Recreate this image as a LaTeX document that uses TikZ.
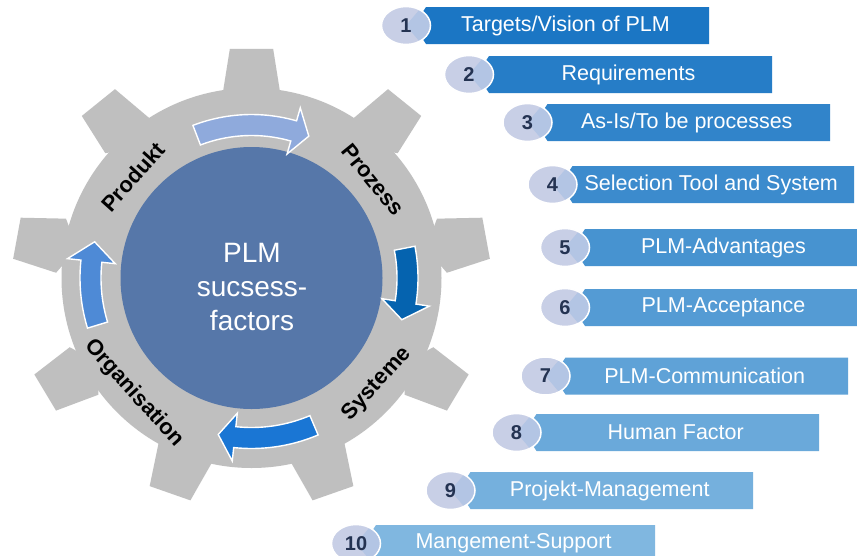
\documentclass[tikz,border=0pt]{standalone}
\usepackage{fontspec}
\setmainfont{Liberation Sans}
\usetikzlibrary{shapes.geometric}
\definecolor{gearcol}{HTML}{BFBFBF}
\definecolor{hubcol}{HTML}{5677A9}
\definecolor{arrtop}{HTML}{8FAADC}
\definecolor{arrright}{HTML}{0563AF}
\definecolor{arrbottom}{HTML}{1A76D4}
\definecolor{arrleft}{HTML}{4E8AD6}
\definecolor{barA}{HTML}{1B76C4}
\definecolor{barB}{HTML}{80B7E0}
\definecolor{ellcol}{HTML}{C8CFE6}
\definecolor{elldark}{HTML}{B3C5E4}
\definecolor{numcol}{HTML}{243352}
\colorlet{bar1}{barA}
\colorlet{bar2}{barB!11!barA}
\colorlet{bar3}{barB!22!barA}
\colorlet{bar4}{barB!33!barA}
\colorlet{bar5}{barB!44!barA}
\colorlet{bar6}{barB!56!barA}
\colorlet{bar7}{barB!67!barA}
\colorlet{bar8}{barB!78!barA}
\colorlet{bar9}{barB!89!barA}
\colorlet{bar10}{barB}
\tikzset{
  numell/.style={ellipse, minimum width=49pt, minimum height=38pt, inner sep=0pt,
    fill=ellcol, draw=white, line width=1.5pt, text=numcol,
    font=\bfseries\fontsize{20}{20}\selectfont,
    path picture={\fill[elldark] (path picture bounding box.center) -- ++(22pt,26pt) -- ++(20pt,0pt) -- ++(0pt,-52pt) -- ++(-20pt,0pt) -- cycle;}},
  bartext/.style={text=white, inner sep=0pt, font=\fontsize{21.5}{21.5}\selectfont},
  gearlabel/.style={text=black, inner sep=0pt, font=\bfseries\fontsize{22}{22}\selectfont},
  ringarr/.style={draw=white, line width=1.4pt, line join=miter},
}
\newcommand\ringarrow[5]{%
  \filldraw[ringarr, fill=#1]
    plot[domain=#2:#3, samples=25] ({(#5+10.5)*cos(\x)},{(#5+10.5)*sin(\x)})
    -- ({#3}:{#5+24}) -- ({#4}:{#5}) -- ({#3}:{#5-24})
    -- plot[domain=#3:#2, samples=25] ({(#5-10.5)*cos(\x)},{(#5-10.5)*sin(\x)})
    -- cycle;}
\newcommand\plmitem[7]{%
  \fill[#6] ({#3+20},{#4-18.5}) -- (#5,{#4-18.5}) -- (#5,{#4+18.5}) -- ({#3+20},{#4+18.5}) -- ({#3+8},#4) -- cycle;
  \node[numell] (n#1) at (#3,#4) {#2};
  \node[bartext] (t#1) at ({(#3+20+#5)/2-2},#4) {#7};}
\begin{document}
\begin{tikzpicture}[x=1pt,y=-1pt]
\useasboundingbox (0,0) rectangle (857,555);
\fill[white] (0,0) rectangle (857,555);
\begin{scope}[shift={(251.5,278)}, y=1pt]
  \fill[gearcol] (0,0) circle[radius=190pt];
  \begin{scope}[xscale=1.04]
  \foreach \a in {10,50,...,330}
    \fill[gearcol] ({\a-8.4}:188) -- ({\a-5.2}:230) -- ({\a+5.2}:230) -- ({\a+8.4}:188) -- (\a:170) -- cycle;
  \end{scope}
  \node[circle, fill=hubcol, minimum size=262pt, inner sep=0pt] (hub) at (0,0) {};
  \ringarrow{arrtop}{111}{74}{68}{153}
  \ringarrow{arrright}{11}{-9}{-15.5}{156}
  \ringarrow{arrbottom}{-67}{-96}{-102}{160}
  \ringarrow{arrleft}{197}{174}{167}{161}
\end{scope}
\node[text=white, align=center, inner sep=0pt, font=\fontsize{28}{34}\selectfont] (hubtext) at (252,287) {PLM\\sucsess-\\factors};
\node[gearlabel, rotate=48] (lprod) at (133,177) {Produkt};
\node[gearlabel, rotate=-51] (lproz) at (373,180) {Prozess};
\node[gearlabel, rotate=48] (lsys) at (377,384) {Systeme};
\node[gearlabel, rotate=-48] (lorg) at (134,393) {Organisation};
\plmitem{1}{1}{406}{25.5}{709}{bar1}{Targets/Vision of PLM}
\plmitem{2}{2}{469}{74.5}{772}{bar2}{Requirements}
\plmitem{3}{3}{527.5}{122.5}{830}{bar3}{As-Is/To be processes}
\plmitem{4}{4}{552.5}{184.5}{854}{bar4}{Selection Tool and System}
\plmitem{5}{5}{565}{247.5}{866}{bar5}{PLM-Advantages}
\plmitem{6}{6}{565}{307.5}{866}{bar6}{PLM-Acceptance}
\plmitem{7}{7}{545.5}{376}{848}{bar7}{PLM-Communication}
\plmitem{8}{8}{516.5}{432.5}{819}{bar8}{Human Factor}
\plmitem{9}{9}{450.5}{490.5}{753}{bar9}{Projekt-Management}
\plmitem{10}{10}{356}{543.5}{655}{bar10}{Mangement-Support}
\end{tikzpicture}
\end{document}
